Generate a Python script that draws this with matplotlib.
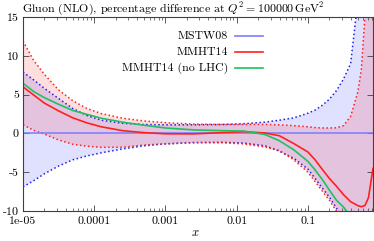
import matplotlib.pyplot as plt
import numpy as np

plt.rcParams['mathtext.fontset'] = 'cm'
plt.rcParams['axes.unicode_minus'] = False

# x grid (log spaced by eye)
x = [1e-5, 1.41e-5, 2e-5, 3.16e-5, 5.01e-5, 7.94e-5, 1.26e-4, 2.51e-4, 5.01e-4,
     1e-3, 2.51e-3, 6.31e-3, 0.0126, 0.0251, 0.0398, 0.0631, 0.1, 0.126, 0.158,
     0.2, 0.251, 0.316, 0.398, 0.501, 0.562, 0.631, 0.708, 0.82]

# MSTW08 band (percentage difference)
mstw_up = [7.9, 6.9, 5.8, 4.5, 3.2, 2.3, 1.7, 1.3, 1.15, 1.1, 1.1, 1.15, 1.25, 1.45,
           1.7, 2.0, 2.6, 3.0, 3.6, 4.4, 5.5, 7.0, 9.0, 17.0, 22.0, 26.0, 30.0, 35.0]
mstw_lo = [-6.9, -6.1, -5.2, -4.2, -3.4, -2.9, -2.5, -2.0, -1.6, -1.35, -1.18, -1.15,
           -1.25, -1.6, -2.3, -3.2, -4.6, -5.8, -7.0, -8.2, -9.6, -11.5, -14.0,
           -17.0, -19.0, -21.0, -23.0, -25.0]
mstw_c = [0.0] * len(x)

# MMHT14 band
mmht_up = [11.9, 9.4, 7.6, 5.6, 4.2, 3.2, 2.55, 1.95, 1.6, 1.38, 1.2, 1.15, 1.15, 1.15,
           1.1, 1.0, 0.85, 0.75, 0.7, 0.7, 0.72, 1.0, 2.2, 5.3, 8.2, 15.0, 22.0, 30.0]
mmht_lo = [1.1, 0.4, -0.1, -0.85, -1.4, -1.65, -1.8, -1.78, -1.5, -1.35, -1.2, -1.2,
           -1.35, -1.75, -2.2, -3.4, -5.0, -6.2, -7.4, -8.6, -10.0, -12.0, -14.0,
           -17.0, -19.0, -21.0, -23.0, -25.0]
mmht_c = [6.0, 4.95, 3.9, 2.9, 2.0, 1.35, 0.85, 0.35, 0.1, -0.05, -0.06, 0.1, 0.22,
          0.05, -0.3, -1.3, -2.4, -3.4, -4.6, -5.8, -6.8, -7.9, -8.8, -9.3, -9.45,
          -9.3, -8.3, -4.5]

# MMHT14 (no LHC) central
nolhc_c = [6.46, 5.4, 4.6, 3.75, 2.95, 2.45, 1.95, 1.45, 1.05, 0.7, 0.45, 0.35, 0.3,
           -0.15, -0.95, -2.1, -3.6, -4.7, -5.9, -7.3, -8.6, -9.5, -10.7, -12.0,
           -13.0, -14.0, -15.0, -16.0]

xticks = [1e-5, 1e-4, 1e-3, 1e-2, 1e-1]
xticklabels = ['1e-05', '0.0001', '0.001', '0.01', '0.1']
yticks = [-10, -5, 0, 5, 10, 15]
yticklabels = ['-10', '-5', '0', '5', '10', '15']

labels = ['MSTW08', 'MMHT14', 'MMHT14 (no LHC)']
colors = ['#7b7bff', '#ff2020', '#20c060']

fs = 8.6
fig = plt.figure(figsize=(3.74, 2.41), dpi=100)
ax = fig.add_axes([23/374, 30/241, 350/374, 194/241])

ax.fill_between(x, mstw_lo, mstw_up, color='#e0e0ff', lw=0)
ax.fill_between(x, mmht_lo, mmht_up, color='red', alpha=0.13, lw=0)
ax.plot(x, mstw_up, ls=':', color='#2020e8', lw=1.1)
ax.plot(x, mstw_lo, ls=':', color='#2020e8', lw=1.1)
ax.plot(x, mmht_up, ls=':', color='#ff2020', lw=1.1)
ax.plot(x, mmht_lo, ls=':', color='#ff2020', lw=1.1)
ax.plot(x, mstw_c, color=colors[0], lw=1.1)
ax.plot(x, mmht_c, color=colors[1], lw=1.2)
ax.plot(x, nolhc_c, color=colors[2], lw=1.2)

ax.set_xscale('log')
ax.set_xlim(1e-5, 0.82)
ax.set_ylim(-10, 15)
ax.set_xticks(xticks)
ax.set_xticklabels(xticklabels, fontfamily='cmr10', fontsize=fs)
ax.set_yticks(yticks)
ax.set_yticklabels(yticklabels, fontfamily='cmr10', fontsize=fs)
ax.tick_params(which='both', direction='in', top=True, right=True, color='#404040')
ax.tick_params(which='major', length=4, width=0.6)
ax.tick_params(which='minor', length=2, width=0.5)
ax.tick_params(axis='x', pad=4)
ax.tick_params(axis='y', pad=3)
for s in ax.spines.values():
    s.set_linewidth(0.8)
    s.set_color('#404040')

# legend drawn by hand: text right aligned, sample on the right
for i, lab in enumerate(labels):
    yy = [0.902, 0.820, 0.737][i]
    ax.text(0.586, yy, lab, transform=ax.transAxes, ha='right', va='center',
            fontfamily='cmr10', fontsize=fs)
    ax.plot([0.606, 0.686], [yy, yy], transform=ax.transAxes, color=colors[i], lw=1.2)

fig.text(22/374, 1 - 9/241, r'Gluon (NLO), percentage difference at $Q^2 = 100000\,\mathrm{GeV}^2$',
         fontfamily='cmr10', fontsize=fs, ha='left', va='center')
fig.text(195/374, 1 - 232/241, r'$x$', fontsize=fs + 0.5, ha='center', va='center')

fig.savefig('out.png', dpi=100)
